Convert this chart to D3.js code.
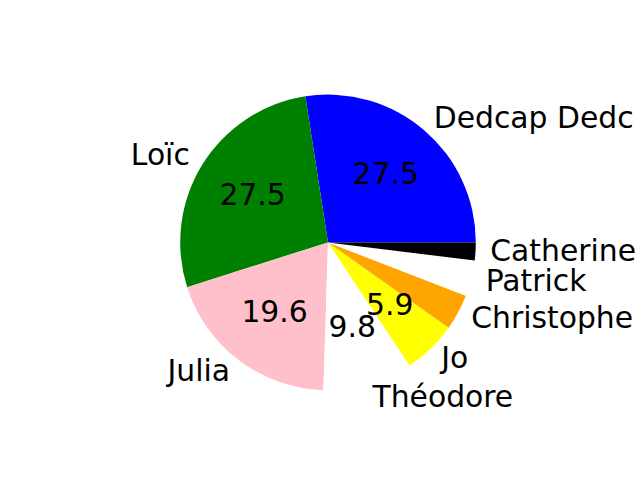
<!DOCTYPE html>
<html><head><meta charset="utf-8">
<script src="https://cdn.jsdelivr.net/npm/d3@7"></script>
<style>body{margin:0;background:#fff}svg{display:block}</style>
</head><body>
<svg id="chart" width="640" height="480"></svg>
<script>
const labels = ["Dedcap Dedc", "Loïc", "Julia", "Théodore", "Jo", "Christophe", "Patrick", "Catherine"];
const values = [14, 14, 10, 5, 3, 2, 2, 1];
const colors = ["blue", "green", "pink", "white", "yellow", "orange", "white", "black"];
const pctThreshold = 5;

const W = 640, H = 480;
const cx = 328, cy = 242.4, R = 147.8;
const fontSize = 29.8;

const svg = d3.select("#chart");
const g = svg.append("g").attr("transform", `translate(${cx},${cy})`);

const data = labels.map((l, i) => ({label: l, value: values[i], color: colors[i]}));
const total = d3.sum(values);

// matplotlib: start at 3 o'clock, counter-clockwise
const pie = d3.pie().sort(null).value(d => d.value)
  .startAngle(Math.PI / 2).endAngle(Math.PI / 2 - 2 * Math.PI);
const arcs = pie(data);
const arc = d3.arc().innerRadius(0).outerRadius(R);

g.selectAll("path.slice").data(arcs).join("path")
  .attr("class", "slice")
  .attr("d", arc)
  .attr("fill", d => d.data.color);

function pos(d, r) {
  const a = (d.startAngle + d.endAngle) / 2; // d3 angle, clockwise from 12
  return [r * Math.sin(a), -r * Math.cos(a)];
}

g.selectAll("text.lbl").data(arcs).join("text")
  .attr("class", "lbl")
  .attr("x", d => pos(d, 1.1 * R)[0])
  .attr("y", d => pos(d, 1.1 * R)[1])
  .attr("dy", "0.29em")
  .attr("text-anchor", d => pos(d, 1)[0] > 0 ? "start" : "end")
  .attr("font-family", "DejaVu Sans")
  .attr("font-size", fontSize)
  .attr("fill", "black")
  .text(d => d.data.label);

g.selectAll("text.pct").data(arcs.filter(d => d.data.value / total * 100 > pctThreshold)).join("text")
  .attr("class", "pct")
  .attr("x", d => pos(d, 0.6 * R)[0])
  .attr("y", d => pos(d, 0.6 * R)[1])
  .attr("dy", "0.31em")
  .attr("text-anchor", "middle")
  .attr("font-family", "DejaVu Sans")
  .attr("font-size", fontSize)
  .attr("fill", "black")
  .text(d => (d.data.value / total * 100).toFixed(1));
</script>
</body></html>
